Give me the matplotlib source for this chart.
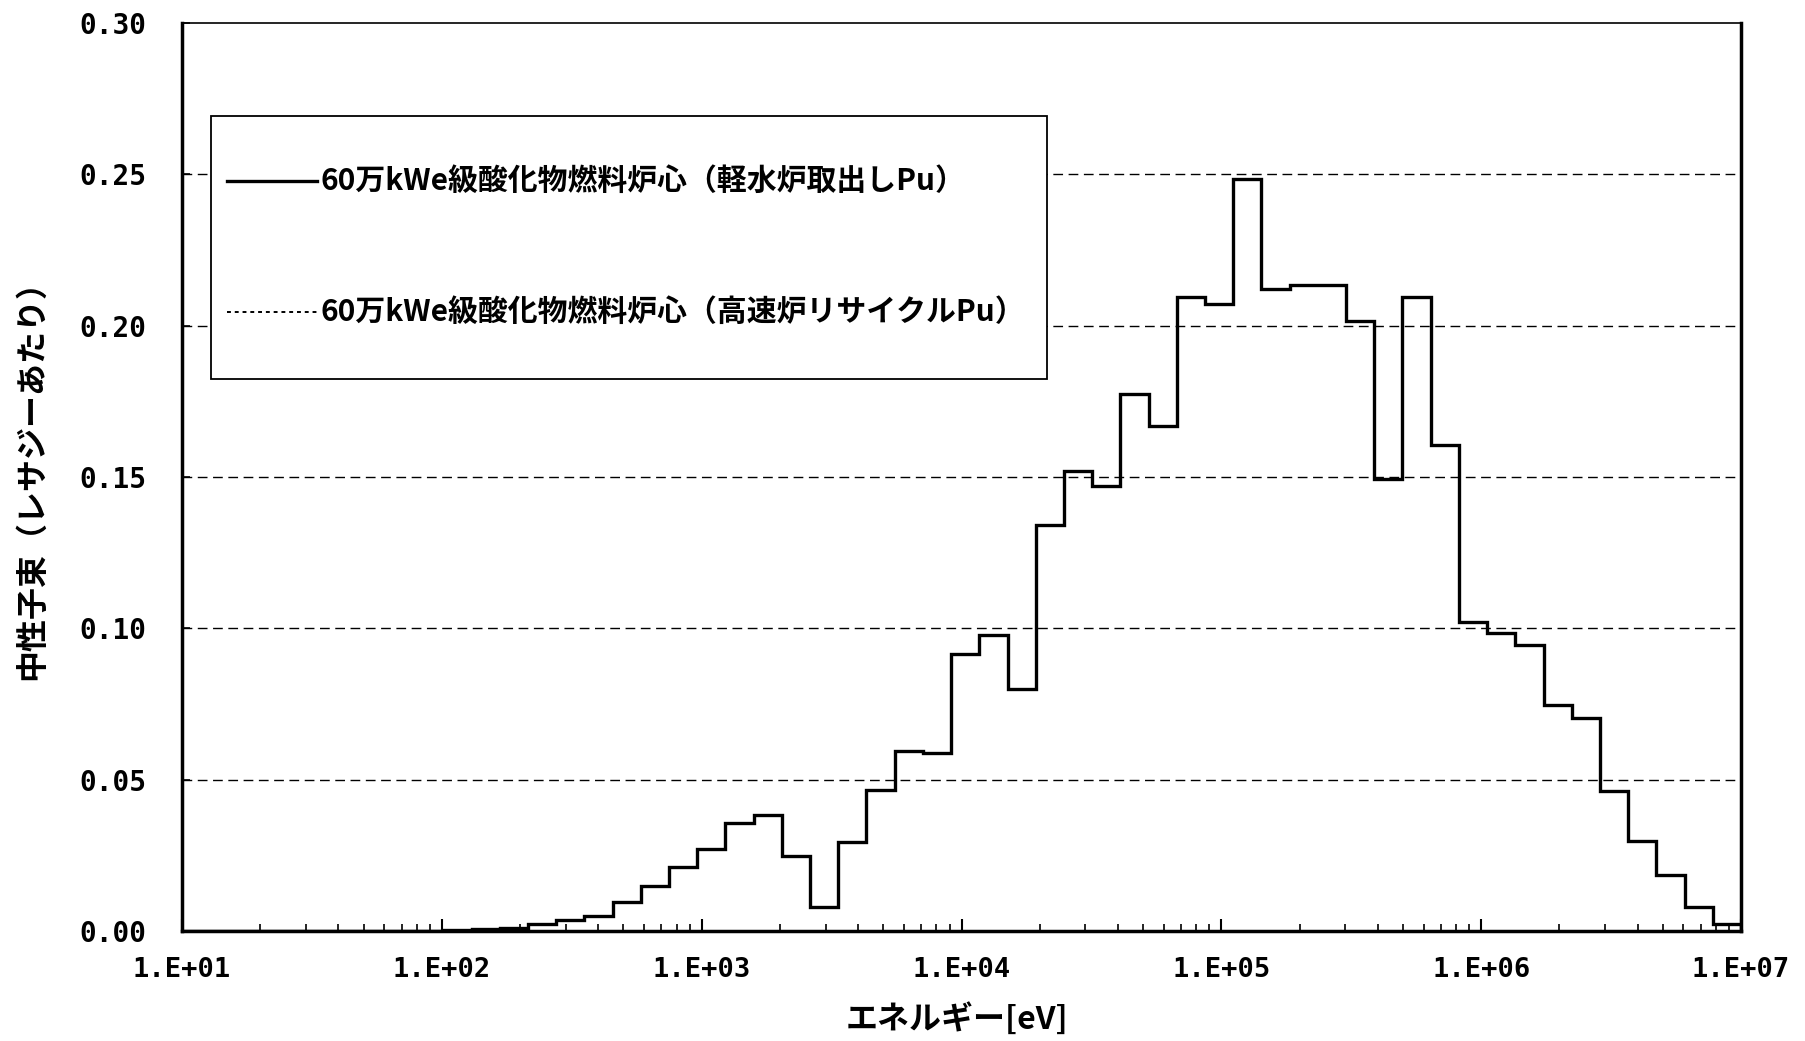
import numpy as np
import matplotlib
matplotlib.use('Agg')
import matplotlib.pyplot as plt
from matplotlib.patches import Rectangle
from matplotlib.ticker import LogLocator, NullFormatter

plt.rcParams['font.family'] = ['Noto Sans CJK JP', 'DejaVu Sans']

# エネルギー群境界 [eV]（低エネルギー側から, レサジー幅0.25）
energy_edges = [
    8.3153, 10.677, 13.710, 17.603, 22.603, 29.023, 37.267, 47.851, 61.442, 78.893,
    101.30, 130.07, 167.02, 214.45, 275.36, 353.57, 454.00, 582.95, 748.52, 961.12,
    1234.1, 1584.6, 2034.7, 2612.6, 3354.6, 4307.4, 5530.8, 7101.7, 9118.8, 11709,
    15034, 19305, 24788, 31828, 40868, 52475, 67379, 86517, 111090, 142642,
    183156, 235177, 301974, 387742, 497871, 639279, 820850, 1053992, 1353353, 1737739,
    2231302, 2865048, 3678794, 4723666, 6065307, 7788008, 10000000,
]

# 中性子束（レサジーあたり） 軽水炉取出しPu
lwr_pu_flux = [
    0, 0, 0, 0, 0, 0, 0, 0, 0, 0,
    0.0002, 0.0005, 0.0011, 0.0022, 0.0035, 0.0049, 0.0095, 0.0148, 0.0210, 0.0272,
    0.0356, 0.0383, 0.0249, 0.0080, 0.0294, 0.0467, 0.0595, 0.0588, 0.0915, 0.0979,
    0.0801, 0.1342, 0.1521, 0.1470, 0.1775, 0.1670, 0.2095, 0.2070, 0.2485, 0.2120,
    0.2135, 0.2135, 0.2016, 0.1494, 0.2095, 0.1606, 0.1022, 0.0985, 0.0945, 0.0748,
    0.0703, 0.0463, 0.0298, 0.0184, 0.0080, 0.0022,
]

# 高速炉リサイクルPu（図上では軽水炉取出しPuとほぼ重なる）
fbr_pu_flux = [
    0, 0, 0, 0, 0, 0, 0, 0, 0, 0,
    0.0002, 0.0005, 0.0011, 0.0022, 0.0035, 0.0049, 0.0095, 0.0148, 0.0210, 0.0272,
    0.0356, 0.0383, 0.0249, 0.0080, 0.0294, 0.0467, 0.0595, 0.0588, 0.0915, 0.0979,
    0.0801, 0.1342, 0.1521, 0.1470, 0.1775, 0.1670, 0.2095, 0.2070, 0.2485, 0.2120,
    0.2135, 0.2135, 0.2016, 0.1494, 0.2095, 0.1606, 0.1022, 0.0985, 0.0945, 0.0748,
    0.0703, 0.0463, 0.0298, 0.0184, 0.0080, 0.0022,
]

x_ticks = [1e1, 1e2, 1e3, 1e4, 1e5, 1e6, 1e7]
x_tick_labels = ['1.E+01', '1.E+02', '1.E+03', '1.E+04', '1.E+05', '1.E+06', '1.E+07']
y_ticks = [0.0, 0.05, 0.10, 0.15, 0.20, 0.25, 0.30]
y_tick_labels = ['0.00', '0.05', '0.10', '0.15', '0.20', '0.25', '0.30']

legend_labels = [
    '60万kWe級酸化物燃料炉心（軽水炉取出しPu）',
    '60万kWe級酸化物燃料炉心（高速炉リサイクルPu）',
]

fig = plt.figure(figsize=(18.06, 10.41), dpi=100)
ax = fig.add_axes([0.1008, 0.1057, 0.8632, 0.8722])

# 破線の目盛線
for y in y_ticks[1:-1]:
    ax.axhline(y, color='black', lw=1.0, ls=(0, (7, 4)), zorder=1)

ax.stairs(lwr_pu_flux, energy_edges, color='black', lw=2.4, zorder=3)
ax.stairs(fbr_pu_flux, energy_edges, color='black', lw=1.4, ls=(0, (3, 2)), zorder=4)

ax.set_xscale('log')
ax.set_xlim(1e1, 1e7)
ax.set_ylim(0, 0.30)

ax.set_xticks(x_ticks)
ax.set_xticklabels(x_tick_labels, family='DejaVu Sans Mono', fontsize=19.5, fontweight='bold')
ax.xaxis.set_minor_locator(LogLocator(base=10, subs=np.arange(2, 10)))
ax.xaxis.set_minor_formatter(NullFormatter())
ax.set_yticks(y_ticks)
ax.set_yticklabels(y_tick_labels, family='DejaVu Sans Mono', fontsize=20, fontweight='bold')

ax.tick_params(axis='x', which='major', direction='in', length=9, width=1.5, pad=19)
ax.tick_params(axis='x', which='minor', direction='in', length=5, width=1.2)
ax.tick_params(axis='y', direction='in', length=6, width=1.2, pad=26)

for side in ['left', 'bottom', 'right']:
    ax.spines[side].set_linewidth(2.5)
ax.spines['top'].set_linewidth(1.2)

# 凡例（枠は手書き）
ax.add_patch(Rectangle((0.0186, 0.608), 0.5364, 0.2896, transform=ax.transAxes,
                       facecolor='white', edgecolor='black', lw=1.3, zorder=5))
ax.plot([0.0289, 0.0866], [0.826, 0.826], transform=ax.transAxes,
        color='black', lw=2.4, zorder=6)
ax.plot([0.0289, 0.0866], [0.682, 0.682], transform=ax.transAxes,
        color='black', lw=1.4, ls=(0, (2, 2)), zorder=6)
ax.text(0.0885, 0.826, legend_labels[0], transform=ax.transAxes,
        ha='left', va='center', fontsize=21.5, fontweight='bold', zorder=6)
ax.text(0.0885, 0.682, legend_labels[1], transform=ax.transAxes,
        ha='left', va='center', fontsize=21.5, fontweight='bold', zorder=6)

ax.set_ylabel('中性子束（レサジーあたり）', fontsize=23, fontweight='bold')
ax.yaxis.set_label_coords(-0.086, 0.505)
ax.set_xlabel('エネルギー[eV]', fontsize=23, fontweight='bold')
ax.xaxis.set_label_coords(0.497, -0.079)

fig.savefig('out.png', dpi=100)
plt.close(fig)
